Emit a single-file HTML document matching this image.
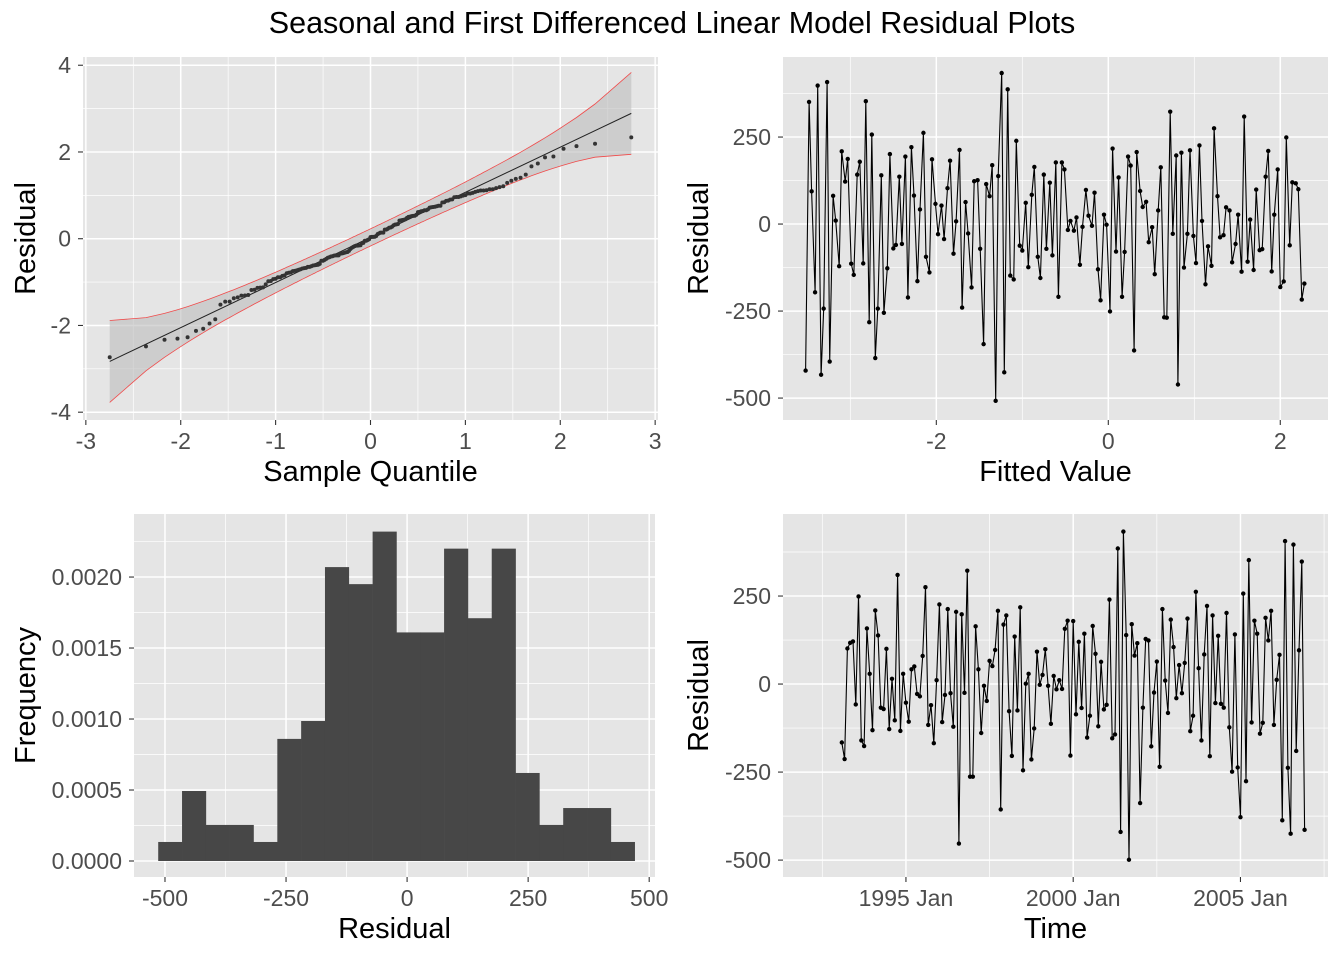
<!DOCTYPE html>
<html><head><meta charset="utf-8"><style>
body{margin:0;background:#fff;}
svg{display:block;font-family:"Liberation Sans",Arial,sans-serif;}
.tick{font-size:23px;fill:#4d4d4d;}
.atitle{font-size:29px;fill:#000;}
</style></head><body>
<svg id="chart" width="1344" height="960" viewBox="0 0 1344 960">
<rect x="0" y="0" width="1344" height="960" fill="#fff"/>
<text x="672" y="33" text-anchor="middle" font-size="30.5">Seasonal and First Differenced Linear Model Residual Plots</text>
</svg>
<script>
// Residuals in time order (monthly from Feb 1993)
const tsStart = [1993, 2];
const tsResiduals = [-166,-213,101,117,121,-58,249,-160,-176,158,29,-131,209,138,-67,-71,100,-128,15,-103,310,-133,29,-53,-107,42,50,-28,-35,80,275,-116,-60,-168,11,226,-108,-31,213,-26,-121,205,-453,
198,-25,322,-263,-263,164,42,-139,-5,-48,66,51,97,208,-356,169,195,-77,-204,135,-75,218,-245,1,29,-214,-126,92,-2,26,99,-5,-113,23,-15,11,-14,157,180,-203,179,-86,120,-68,143,
-152,-90,165,86,-120,63,-72,-59,240,-154,-143,385,-420,433,139,-499,170,81,116,-338,-67,128,124,-177,-24,64,-235,213,10,-82,183,105,-40,54,-26,60,186,-134,-90,262,45,-160,84,222,-205,
195,-54,137,-56,-67,202,-123,-249,141,-237,-378,257,-276,352,-109,180,143,-141,-110,188,124,208,-116,12,83,-387,406,-238,-425,396,-190,96,348,-414];
// Fitted vs residual (sorted by fitted)
const fittedValues = [-3.52,-3.48,-3.45,-3.41,-3.38,-3.34,-3.31,-3.27,-3.24,-3.20,-3.17,-3.13,-3.10,-3.06,-3.03,-2.99,-2.96,-2.92,-2.89,-2.85,-2.82,-2.78,-2.75,-2.71,-2.68,-2.64,-2.61,-2.57,-2.54,-2.50,-2.47,-2.43,-2.40,-2.36,-2.33,-2.29,-2.26,-2.22,-2.19,-2.15,
-2.12,-2.08,-2.05,-2.01,-1.98,-1.94,-1.91,-1.87,-1.84,-1.80,-1.77,-1.73,-1.70,-1.66,-1.63,-1.59,-1.56,-1.52,-1.49,-1.45,-1.42,-1.38,-1.35,-1.31,-1.28,-1.24,-1.21,-1.17,-1.14,-1.10,-1.07,-1.03,-1.00,-0.96,-0.93,-0.89,-0.86,-0.82,-0.79,-0.75,-0.72,-0.68,
-0.65,-0.61,-0.58,-0.54,-0.51,-0.47,-0.44,-0.40,-0.37,-0.33,-0.30,-0.26,-0.23,-0.19,-0.16,-0.12,-0.09,-0.05,-0.02,0.02,0.05,0.09,0.12,0.16,0.19,0.23,0.26,0.30,0.33,0.37,0.40,0.44,0.47,0.51,0.54,0.58,0.61,0.65,0.68,0.72,0.75,0.79,
0.81,0.85,0.88,0.92,0.95,0.99,1.02,1.06,1.09,1.13,1.16,1.20,1.23,1.27,1.30,1.34,1.37,1.41,1.44,1.48,1.51,1.55,1.58,1.62,1.65,1.69,1.72,1.76,1.79,1.83,1.86,1.90,1.93,1.97,2.00,2.04,2.07,2.11,2.14,2.18,2.21,2.25,2.28];
const fittedResiduals = [-421,351,94,-196,398,-433,-243,408,-395,81,10,-121,209,122,187,-114,-146,142,179,-113,353,-282,257,-385,-243,140,-255,-127,201,-70,-60,136,-57,194,-211,221,82,-164,42,262,
-94,-139,186,58,-29,53,-43,103,182,-85,8,213,-240,63,-27,-182,123,126,-71,-345,115,80,169,-508,138,434,-426,387,-148,-159,239,-62,-76,61,-124,84,164,-94,-155,142,-71,119,
-90,177,-209,177,157,-17,9,-19,19,-117,-8,98,24,-5,90,-130,-219,27,-2,-251,217,-79,134,-209,-80,194,168,-363,207,95,49,64,-52,-9,-144,39,163,-268,-269,323,-28,197,
-461,205,-125,-28,212,-34,-112,226,9,-173,-64,-120,275,80,-38,-32,48,39,-110,-57,27,-137,309,-108,13,-132,99,-75,-72,136,210,-136,27,157,-181,-165,249,-61,120,117,100,-217,-171];
// Histogram
const histStart = -514;
const histWidth = 49.2;
const histDensity = [0.000134,0.000493,0.000254,0.000254,0.000134,0.00086,0.000986,0.00207,0.00195,0.00232,0.00161,0.00161,0.0022,0.00171,0.0022,0.00062,0.000254,0.000373,0.000373,0.000134];
// Tick labels
const qqTicksX = [-3,-2,-1,0,1,2,3];
const qqTicksY = [-4,-2,0,2,4];
const resTicks = [-500,-250,0,250];
const fitTicks = [-2,0,2];
const histTicksX = [-500,-250,0,250,500];
const histTicksY = [0,0.0005,0.001,0.0015,0.002];
const timeTickYears = [1995,2000,2005];

const NS="http://www.w3.org/2000/svg";
const svg=document.getElementById('chart');
function el(tag,attrs,parent){const e=document.createElementNS(NS,tag);for(const k in attrs)e.setAttribute(k,attrs[k]);(parent||svg).appendChild(e);return e;}
function scale(d0,d1,r0,r1){return v=>r0+(v-d0)/(d1-d0)*(r1-r0);}

function panel(name,box,xd,yd,xMaj,xMin,yMaj,yMin){
  const g=el('g',{});
  
  
  const bg=el('rect',{x:box[0],y:box[2],width:box[1]-box[0],height:box[3]-box[2],fill:'#e5e5e5'},g);
  
  
  const sx=scale(xd[0],xd[1],box[0],box[1]), sy=scale(yd[0],yd[1],box[3],box[2]);
  xMin.forEach(v=>{const x=sx(v);if(x>box[0]&&x<box[1])el('line',{x1:x,x2:x,y1:box[2],y2:box[3],stroke:'#fff','stroke-width':0.7},g);});
  yMin.forEach(v=>{const y=sy(v);if(y>box[2]&&y<box[3])el('line',{x1:box[0],x2:box[1],y1:y,y2:y,stroke:'#fff','stroke-width':0.7},g);});
  xMaj.forEach(v=>{const x=sx(v);el('line',{x1:x,x2:x,y1:box[2],y2:box[3],stroke:'#fff','stroke-width':1.5},g);
    el('line',{x1:x,x2:x,y1:box[3],y2:box[3]+5,stroke:'#333','stroke-width':1.1},g);});
  yMaj.forEach(v=>{const y=sy(v);el('line',{x1:box[0],x2:box[1],y1:y,y2:y,stroke:'#fff','stroke-width':1.5},g);
    el('line',{x1:box[0]-5,x2:box[0],y1:y,y2:y,stroke:'#333','stroke-width':1.1},g);});
  return {g,sx,sy};
}
function tickLabels(p,box,xv,xl,yv,yl){
  xv.forEach((v,i)=>{const t=el('text',{x:p.sx(v),y:box[3]+29,'text-anchor':'middle',class:'tick'},p.g);t.textContent=xl[i];
    });
  yv.forEach((v,i)=>{const t=el('text',{x:box[0]-12,y:p.sy(v)+8,'text-anchor':'end',class:'tick'},p.g);t.textContent=yl[i];
    });
}
function axisTitles(p,box,xt,yt,yx,nm){
  const a=el('text',{x:(box[0]+box[1])/2,y:box[3]+61,'text-anchor':'middle',class:'atitle'},p.g);a.textContent=xt;
  
  const cy=(box[2]+box[3])/2;
  const b=el('text',{x:yx,y:cy,'text-anchor':'middle',class:'atitle',transform:`rotate(-90 ${yx} ${cy})`},p.g);b.textContent=yt;
  
}
function qnorm(p){
  const a=[-39.69683028665376,220.9460984245205,-275.9285104469687,138.357751867269,-30.66479806614716,2.506628277459239];
  const b=[-54.47609879822406,161.5858368580409,-155.6989798598866,66.80131188771972,-13.28068155288572];
  const c=[-0.007784894002430293,-0.3223964580411365,-2.400758277161838,-2.549732539343734,4.374664141464968,2.938163982698783];
  const d=[0.007784695709041462,0.3224671290700398,2.445134137142996,3.754408661907416];
  let q,r;
  if(p<0.02425){q=Math.sqrt(-2*Math.log(p));return (((((c[0]*q+c[1])*q+c[2])*q+c[3])*q+c[4])*q+c[5])/((((d[0]*q+d[1])*q+d[2])*q+d[3])*q+1);}
  if(p>1-0.02425){q=Math.sqrt(-2*Math.log(1-p));return -(((((c[0]*q+c[1])*q+c[2])*q+c[3])*q+c[4])*q+c[5])/((((d[0]*q+d[1])*q+d[2])*q+d[3])*q+1);}
  q=p-0.5;r=q*q;return (((((a[0]*r+a[1])*r+a[2])*r+a[3])*r+a[4])*r+a[5])*q/(((((b[0]*r+b[1])*r+b[2])*r+b[3])*r+b[4])*r+1);
}
function dnorm(z){return Math.exp(-z*z/2)/Math.sqrt(2*Math.PI);}
const range=(a,b,s)=>{const r=[];for(let v=a;v<=b+1e-9;v+=s)r.push(+v.toFixed(6));return r;};

// ---- Panel 1: QQ ----
(function(){
  const box=[83,658,57,420];
  const p=panel('qq-plot-panel',box,[-3.03,3.03],[-4.18,4.19],qqTicksX,range(-2.5,2.5,1),qqTicksY,range(-3,3,2));
  tickLabels(p,box,qqTicksX,qqTicksX.map(String),qqTicksY,qqTicksY.map(String));
  axisTitles(p,box,'Sample Quantile','Residual',35,'qq');
  const n=tsResiduals.length;
  const mean=tsResiduals.reduce((s,v)=>s+v,0)/n;
  const sd=Math.sqrt(tsResiduals.reduce((s,v)=>s+(v-mean)*(v-mean),0)/(n-1));
  const ys=tsResiduals.map(v=>(v-mean)/sd).sort((a,b)=>a-b);
  const a=n<=10?3/8:0.5;
  const xs=ys.map((_,i)=>qnorm((i+1-a)/(n+1-2*a)));
  const qa=ys[Math.floor(0.25*(n-1))],qb=ys[Math.floor(0.75*(n-1))];
  const slope=(qb-qa)/(qnorm(0.75)-qnorm(0.25)), icpt=qa-slope*qnorm(0.25);
  const ps=xs.map((_,i)=>(i+1-a)/(n+1-2*a));
  const se=xs.map((z,i)=>slope/dnorm(z)*Math.sqrt(ps[i]*(1-ps[i])/n));
  const up=xs.map((z,i)=>icpt+slope*z+1.96*se[i]), lo=xs.map((z,i)=>icpt+slope*z-1.96*se[i]);
  let d=xs.map((z,i)=>(i?'L':'M')+p.sx(z).toFixed(1)+','+p.sy(up[i]).toFixed(1)).join('');
  for(let i=n-1;i>=0;i--)d+='L'+p.sx(xs[i]).toFixed(1)+','+p.sy(lo[i]).toFixed(1);
  const band=el('path',{d:d+'Z',fill:'#bdbdbd','fill-opacity':0.6},p.g);
  
  ['upper','lower'].forEach((k,j)=>{const arr=j?lo:up;
    const l=el('path',{d:xs.map((z,i)=>(i?'L':'M')+p.sx(z).toFixed(1)+','+p.sy(arr[i]).toFixed(1)).join(''),fill:'none',stroke:'#f04a4a','stroke-width':0.8},p.g);
    });
  const ql=el('line',{x1:p.sx(xs[0]),y1:p.sy(icpt+slope*xs[0]),x2:p.sx(xs[n-1]),y2:p.sy(icpt+slope*xs[n-1]),stroke:'#222','stroke-width':1},p.g);
  
  xs.forEach((z,i)=>{const c=el('circle',{cx:p.sx(z),cy:p.sy(ys[i]),r:2,fill:'#333'},p.g);
    });
})();

// ---- Panel 2: fitted vs residual ----
(function(){
  const box=[783,1328,57,420];
  const p=panel('fitted-residual-panel',box,[-3.783,2.555],[-563,480],fitTicks,[-3,-1,1,3],resTicks,[-375,-125,125,375]);
  tickLabels(p,box,fitTicks,fitTicks.map(v=>v<0?'-'+(-v):String(v)),resTicks,resTicks.map(String));
  axisTitles(p,box,'Fitted Value','Residual',708,'fitted');
  const d=fittedValues.map((f,i)=>(i?'L':'M')+p.sx(f).toFixed(1)+','+p.sy(fittedResiduals[i]).toFixed(1)).join('');
  const l=el('path',{d,fill:'none',stroke:'#000','stroke-width':1.1},p.g);
  
  fittedValues.forEach((f,i)=>{const c=el('circle',{cx:p.sx(f),cy:p.sy(fittedResiduals[i]),r:2.2,fill:'#000'},p.g);
    });
})();

// ---- Panel 3: histogram ----
(function(){
  const box=[134,655,514,877];
  const p=panel('histogram-panel',box,[-564,512],[-0.0001127,0.002444],histTicksX,[-375,-125,125,375],histTicksY,[0.00025,0.00075,0.00125,0.00175,0.00225]);
  tickLabels(p,box,histTicksX,histTicksX.map(String),histTicksY,histTicksY.map(v=>v.toFixed(4)));
  axisTitles(p,box,'Residual','Frequency',35,'histogram');
  histDensity.forEach((v,i)=>{const x0=p.sx(histStart+i*histWidth),x1=p.sx(histStart+(i+1)*histWidth);
    const r=el('rect',{x:x0,y:p.sy(v),width:x1-x0+0.3,height:p.sy(0)-p.sy(v),fill:'#474747'},p.g);
    });
})();

// ---- Panel 4: time series ----
(function(){
  const box=[783,1328,514,877];
  const toM=(y,m)=>(y-1995)*12+(m-1);
  const p=panel('time-residual-panel',box,[-44.1,151.4],[-548,483],timeTickYears.map(y=>toM(y,1)),[-30,30,90,150],resTicks,[-375,-125,125,375]);
  tickLabels(p,box,timeTickYears.map(y=>toM(y,1)),timeTickYears.map(y=>y+' Jan'),resTicks,resTicks.map(String));
  axisTitles(p,box,'Time','Residual',708,'time');
  const m0=toM(tsStart[0],tsStart[1]);
  const d=tsResiduals.map((r,i)=>(i?'L':'M')+p.sx(m0+i).toFixed(1)+','+p.sy(r).toFixed(1)).join('');
  const l=el('path',{d,fill:'none',stroke:'#000','stroke-width':1.1},p.g);
  
  tsResiduals.forEach((r,i)=>{const c=el('circle',{cx:p.sx(m0+i),cy:p.sy(r),r:2.2,fill:'#000'},p.g);
    });
})();
</script>
</body></html>
